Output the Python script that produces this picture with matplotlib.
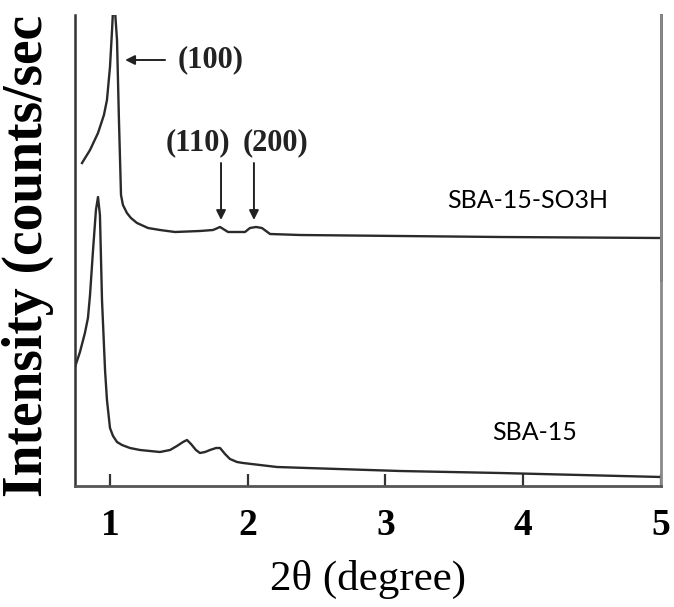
import matplotlib.pyplot as plt
import numpy as np

# 2-theta (degree) and intensity (a.u.)
sba15_so3h_x = [0.797, 0.855, 0.913, 0.956, 0.978, 1.000, 1.015, 1.022, 1.036, 1.051,
                1.065, 1.080, 1.094, 1.123, 1.152, 1.196, 1.276, 1.363, 1.472, 1.653,
                1.748, 1.799, 1.857, 1.980, 2.016, 2.060, 2.103, 2.162, 2.379, 3.105,
                3.831, 5.000]
sba15_so3h_y = [323, 336, 353, 371, 386, 419, 456, 476, 476, 446,
                366, 291, 281, 273, 268, 263, 258, 256, 254, 255,
                256, 259, 254, 254, 258, 259, 258, 252, 251, 250,
                249, 248]

sba15_x = [0.746, 0.782, 0.818, 0.840, 0.855, 0.877, 0.898, 0.913, 0.927, 0.942,
           0.964, 0.978, 1.000, 1.022, 1.051, 1.087, 1.145, 1.218, 1.363, 1.436,
           1.486, 1.530, 1.559, 1.588, 1.624, 1.653, 1.690, 1.726, 1.770, 1.799,
           1.835, 1.871, 1.922, 1.966, 2.212, 2.430, 3.105, 3.831, 5.000]
sba15_y = [119, 134, 153, 168, 191, 236, 276, 289, 271, 186,
           116, 86, 58, 50, 44, 41, 38, 36, 34, 36,
           40, 44, 46, 42, 36, 33, 34, 36, 38, 38,
           32, 27, 24, 23, 19, 18, 15, 13, 9]

x_ticks = [1, 2, 3, 4, 5]

# peak labels: text, arrow tail, arrow head, text position
peak_labels = [
    ("(100)", (1.40, 426), (1.11, 426), (1.49, 426)),
    ("(110)", (1.806, 323), (1.806, 266), (1.64, 343)),
    ("(200)", (2.045, 323), (2.045, 266), (2.20, 343)),
]

serif = ['Liberation Serif', 'DejaVu Serif']
sans = ['Lato', 'DejaVu Sans']

fig = plt.figure(figsize=(6.74, 6.07), dpi=100)
ax = fig.add_axes([75 / 674, 1 - 486 / 607, (661 - 75) / 674, (486 - 15) / 607])

line_color = '#2a2a2a'
ax.plot(sba15_so3h_x, sba15_so3h_y, color=line_color, linewidth=1.7)
ax.plot(sba15_x, sba15_y, color=line_color, linewidth=1.7)

ax.set_xlim(0.746, 5.0)
ax.set_ylim(0, 471)

ax.spines['top'].set_visible(False)
ax.spines['left'].set_color('#333333')
ax.spines['left'].set_linewidth(1.8)
ax.spines['bottom'].set_color('#555555')
ax.spines['bottom'].set_linewidth(2.0)
ax.spines['right'].set_color('#8a8a8a')
ax.spines['right'].set_linewidth(2.0)
ax.axvline(5.0, ymin=206 / 471, ymax=1, color='#222222', linewidth=2.0, clip_on=False)

ax.set_xticks(x_ticks)
ax.set_xticklabels([str(t) for t in x_ticks], fontfamily=serif, fontweight='bold', fontsize=27)
ax.tick_params(axis='x', direction='in', length=9, width=1.6, color='#333333', pad=16)
ax.set_yticks([])

ax.set_xlabel('2θ (degree)', fontfamily=serif, fontsize=31, labelpad=12)
# the reference crops the label at the top edge, so only this much shows
fig.text(28 / 674, 1 - 497 / 607, 'Intensity (counts/sec', rotation=90,
         fontfamily=serif, fontweight='bold', fontsize=40, ha='center', va='bottom')

for label, tail, head, txt in peak_labels:
    ax.annotate('', xy=head, xytext=tail,
                arrowprops=dict(arrowstyle='-|>', color='#222222', lw=1.4,
                                mutation_scale=14, shrinkA=0, shrinkB=0))
    ha = 'left' if label == "(100)" else 'center'
    ax.text(txt[0], txt[1], label, fontfamily=serif, fontweight='bold', fontsize=22,
            ha=ha, va='center', color='#222222')

ax.text(4.03, 286, 'SBA-15-SO3H', fontfamily=sans, fontsize=18, ha='center', va='center')
ax.text(4.08, 53, 'SBA-15', fontfamily=sans, fontsize=18, ha='center', va='center')

fig.savefig('out.png', dpi=100)
